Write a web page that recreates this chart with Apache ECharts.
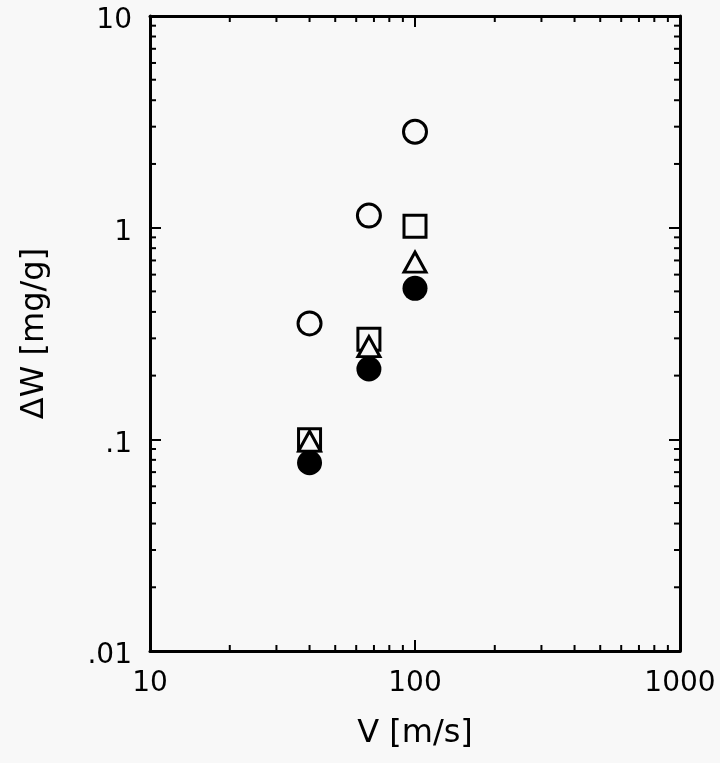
<!DOCTYPE html>
<html><head><meta charset="utf-8">
<script src="https://cdn.jsdelivr.net/npm/echarts@6/dist/echarts.min.js"></script>
<style>html,body{margin:0;padding:0;background:#f8f8f8}#c{width:720px;height:763px}</style>
</head><body><div id="c"></div>
<script>
// Data (V [m/s], ΔW [mg/g])
const openCircle   = [[40, 0.353], [67, 1.14], [100, 2.84]];
const openSquare   = [[40, 0.0996], [67, 0.297], [100, 1.016]];
const openTriangle = [[40, 0.098], [67, 0.274], [100, 0.687]];
const filledCircle = [[40, 0.0775], [67, 0.215], [100, 0.517]];

const xRange = [10, 1000];
const yRange = [0.01, 10];
const xMinorTicks = [20, 30, 40, 50, 60, 70, 80, 90, 200, 300, 400, 500, 600, 700, 800, 900];
const yMinorTicks = [0.02, 0.03, 0.04, 0.05, 0.06, 0.07, 0.08, 0.09,
                     0.2, 0.3, 0.4, 0.5, 0.6, 0.7, 0.8, 0.9,
                     2, 3, 4, 5, 6, 7, 8, 9];
const yTickLabels = {'-2': '.01', '-1': '.1', '0': '1', '1': '10'};
const xTickLabels = {'1': '10', '2': '100', '3': '1000'};

const BG = '#f8f8f8';
const FONT = 'DejaVu Sans';
const chart = echarts.init(document.getElementById('c'), null, {renderer: 'canvas'});

function axisBase(showLabels) {
  return {
    type: 'log', logBase: 10,
    axisLine: {show: true, onZero: false, lineStyle: {color: '#000', width: 3}},
    axisTick: {show: true, inside: true, length: 11, lineStyle: {color: '#000', width: 2}},
    splitLine: {show: false},
    minorTick: {show: false},
    axisLabel: {show: showLabels, color: '#000', fontSize: 28, fontFamily: FONT}
  };
}

const xBottom = Object.assign(axisBase(true), {
  position: 'bottom', min: xRange[0], max: xRange[1],
  name: 'V [m/s]', nameLocation: 'middle', nameGap: 67,
  nameTextStyle: {color: '#000', fontSize: 32, fontFamily: FONT}
});
xBottom.axisLabel.margin = 19;
xBottom.axisLabel.formatter = v => xTickLabels[String(Math.round(Math.log10(v)))] || '';
const xTop = Object.assign(axisBase(false), {position: 'top', min: xRange[0], max: xRange[1]});

const yLeft = Object.assign(axisBase(true), {
  position: 'left', min: yRange[0], max: yRange[1],
  name: 'ΔW [mg/g]', nameLocation: 'middle', nameGap: 99,
  nameTextStyle: {color: '#000', fontSize: 32, fontFamily: FONT}
});
yLeft.axisLabel.margin = 18;
yLeft.axisLabel.verticalAlign = 'top';
yLeft.axisLabel.lineHeight = 10;
yLeft.axisLabel.formatter = v => yTickLabels[String(Math.round(Math.log10(v)))] || '';
const yRight = Object.assign(axisBase(false), {position: 'right', min: yRange[0], max: yRange[1]});

function lineShape(p1, p2) {
  return {type: 'line', shape: {x1: p1[0], y1: p1[1], x2: p2[0], y2: p2[1]},
          style: {stroke: '#000', lineWidth: 2}};
}

const MINOR = 6;

const option = {
  backgroundColor: BG,
  animation: false,
  grid: {left: 150, right: 40, top: 16, bottom: 112, containLabel: false},
  xAxis: [xBottom, xTop],
  yAxis: [yLeft, yRight],
  series: [
    {
      type: 'custom', xAxisIndex: 0, yAxisIndex: 0, clip: false, silent: true,
      data: xMinorTicks.map(v => [v, yRange[0]]),
      renderItem: (params, api) => {
        const v = api.value(0);
        const b = api.coord([v, yRange[0]]);
        const t = api.coord([v, yRange[1]]);
        return {type: 'group', children: [
          lineShape(b, [b[0], b[1] - MINOR]),
          lineShape(t, [t[0], t[1] + MINOR])
        ]};
      }
    },
    {
      type: 'custom', xAxisIndex: 0, yAxisIndex: 0, clip: false, silent: true,
      data: yMinorTicks.map(v => [xRange[0], v]),
      renderItem: (params, api) => {
        const v = api.value(1);
        const l = api.coord([xRange[0], v]);
        const r = api.coord([xRange[1], v]);
        return {type: 'group', children: [
          lineShape(l, [l[0] + MINOR, l[1]]),
          lineShape(r, [r[0] - MINOR, r[1]])
        ]};
      }
    },
    {
      type: 'scatter', data: openCircle, symbol: 'circle', symbolSize: 23,
      itemStyle: {color: BG, borderColor: '#000', borderWidth: 3, opacity: 1}
    },
    {
      type: 'scatter', data: openSquare, symbol: 'rect', symbolSize: 22,
      itemStyle: {color: BG, borderColor: '#000', borderWidth: 3, opacity: 1}
    },
    {
      type: 'scatter', data: openTriangle, symbol: 'triangle', symbolSize: [22, 20],
      itemStyle: {color: BG, borderColor: '#000', borderWidth: 3, opacity: 1}
    },
    {
      type: 'scatter', data: filledCircle, symbol: 'circle', symbolSize: 25,
      itemStyle: {color: '#000', opacity: 1}
    }
  ]
};
chart.setOption(option);
</script>
</body></html>
